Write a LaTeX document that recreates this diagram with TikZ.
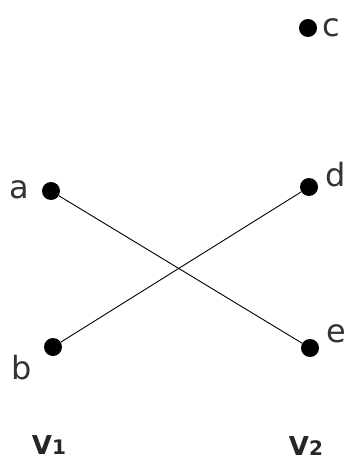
\documentclass[tikz,border=0pt]{standalone}
\usepackage{fontspec}
\setmainfont{DejaVu Sans}
\begin{document}
\begin{tikzpicture}[x=1pt,y=-1pt,
  vdot/.style={circle,fill=black,inner sep=0pt,minimum size=18pt},
  lbl/.style={inner sep=0pt,font=\fontsize{32}{34}\selectfont,text=black!80},
  setlbl/.style={inner sep=0pt,font=\bfseries\fontsize{26}{28}\selectfont,text=black!85},
  edge/.style={draw=black,line width=0.9pt}]
\useasboundingbox (0,0) rectangle (346,462);
\node[vdot] (a) at (51,191) {};
\node[vdot] (b) at (53,347) {};
\node[vdot] (c) at (308,28) {};
\node[vdot] (d) at (309,187) {};
\node[vdot] (e) at (310,348) {};
\node[lbl] (la) at (19,190) {a};
\node[lbl] (lb) at (22,368) {b};
\node[lbl] (lc) at (331,28) {c};
\node[lbl] (ld) at (336,175) {d};
\node[lbl] (le) at (336,334) {e};
\node[setlbl] (v1) at (49,445) {V{\fontsize{20}{20}\selectfont 1}};
\node[setlbl] (v2) at (306,446) {V{\fontsize{20}{20}\selectfont 2}};
\draw[edge] (a) -- (e);
\draw[edge] (b) -- (d);
\end{tikzpicture}
\end{document}
